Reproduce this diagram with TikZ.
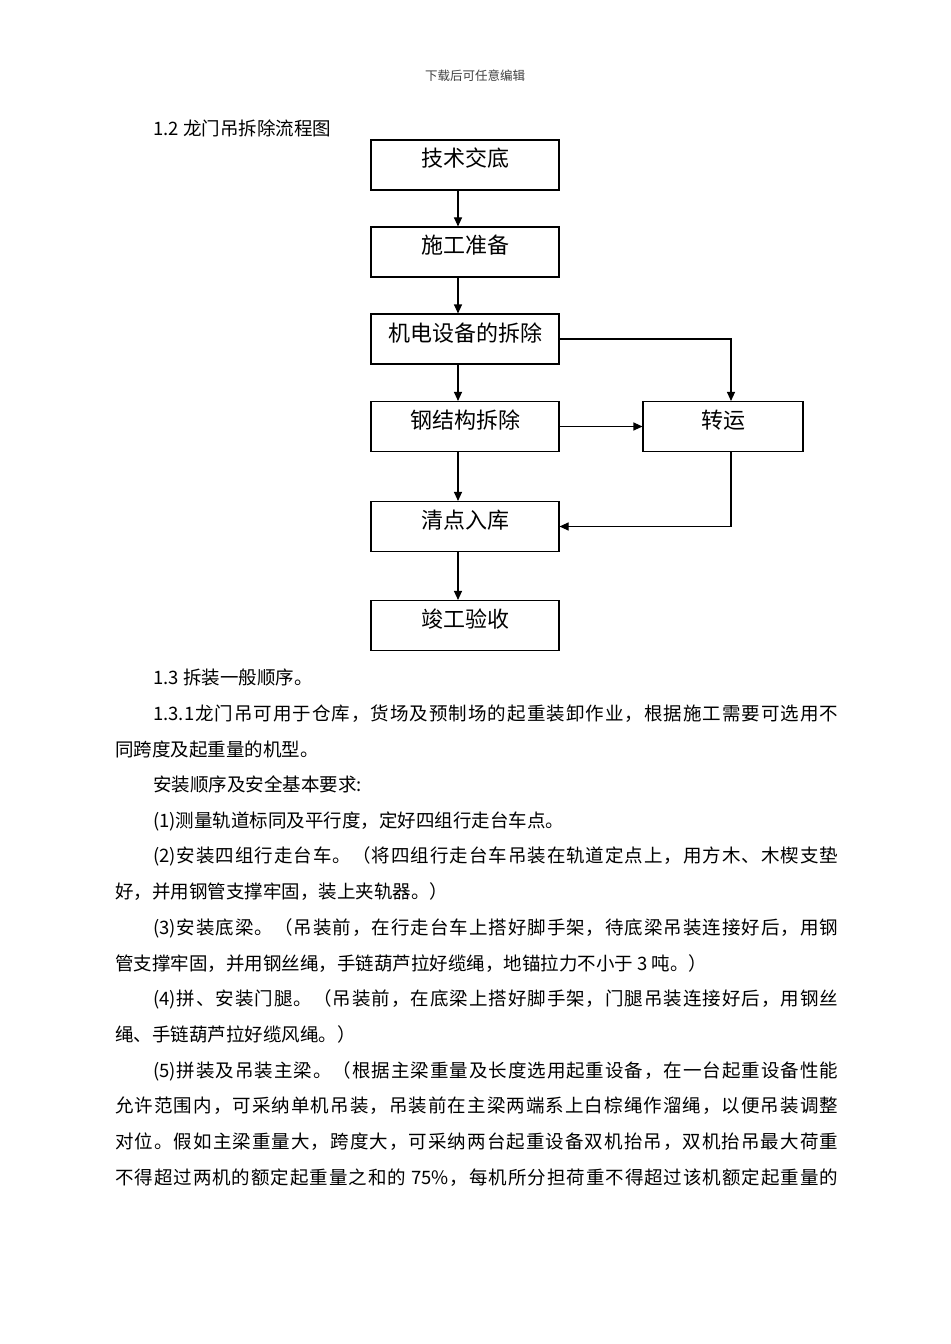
\documentclass[tikz,border=0pt]{standalone}
\usepackage{fontspec}
\setmainfont{Noto Sans CJK SC}
\usetikzlibrary{arrows.meta}
\makeatletter
\newcommand\jline[2]{\hbox to #1{\let\jl@sep\relax\@tfor\jl@x:=#2\do{\jl@sep\jl@x\let\jl@sep\hfil}}}
\makeatother
\tikzset{
  box/.style={draw, line width=1.1bp, inner xsep=0pt, inner ysep=0pt,
    minimum width=188bp, text height=27bp, text depth=23bp,
    font=\fontsize{22bp}{26bp}\selectfont},
  arr/.style={line width=1.1bp, -{Triangle[length=9bp,width=8bp]}},
  body/.style={anchor=base west, inner sep=0pt, font=\fontsize{18.5bp}{22bp}\selectfont}
}
\begin{document}
\begin{tikzpicture}[x=1bp,y=-1bp]
\useasboundingbox[fill=white] (0,0) rectangle (950,1344);
% header
\node[anchor=base, inner sep=0pt, font=\fontsize{12.5bp}{14bp}\selectfont, text=black!75] (hdr) at (475,80.7) {下载后可任意编辑};
\node[body] (h12) at (153,136) {1.2 龙门吊拆除流程图};
% flowchart
\node[box] (b1) at (465,165) {技术交底};
\node[box] (b2) at (465,252) {施工准备};
\node[box] (b3) at (465,339) {机电设备的拆除};
\node[box] (b4) at (465,426.5) {钢结构拆除};
\node[box, minimum width=160bp] (t) at (723,426.5) {转运};
\node[box] (b5) at (465,526.5) {清点入库};
\node[box] (b6) at (465,625.5) {竣工验收};
\coordinate (ax) at (458,0);
\coordinate (bx) at (731,0);
\draw[arr] (b1.south -| ax) -- (b2.north -| ax);
\draw[arr] (b2.south -| ax) -- (b3.north -| ax);
\draw[arr] (b3.south -| ax) -- (b4.north -| ax);
\draw[arr] (b4.south -| ax) -- (b5.north -| ax);
\draw[arr] (b5.south -| ax) -- (b6.north -| ax);
\draw[arr] (b3.east) -| (t.north -| bx);
\draw[arr] (b4.east) -- (t.west);
\draw[arr] (t.south -| bx) |- (b5.east);
% body text
\node[body] (l1) at (153,684) {1.3 拆装一般顺序。};
\node[body] (l2) at (153,720) {\jline{685bp}{{1.3.1}龙门吊可用于仓库，货场及预制场的起重装卸作业，根据施工需要可选用不}};
\node[body] (l3) at (115,756) {同跨度及起重量的机型。};
\node[body] (l4) at (153,791) {安装顺序及安全基本要求:};
\node[body] (l5) at (153,827) {(1)测量轨道标同及平行度，定好四组行走台车点。};
\node[body] (l6) at (153,862) {\jline{685bp}{{(2)}安装四组行走台车。（将四组行走台车吊装在轨道定点上，用方木、木楔支垫}};
\node[body] (l7) at (115,898) {好，并用钢管支撑牢固，装上夹轨器。）};
\node[body] (l8) at (153,934) {\jline{685bp}{{(3)}安装底梁。（吊装前，在行走台车上搭好脚手架，待底梁吊装连接好后，用钢}};
\node[body] (l9) at (115,970) {管支撑牢固，并用钢丝绳，手链葫芦拉好缆绳，地锚拉力不小于 3 吨。）};
\node[body] (l10) at (153,1005) {\jline{685bp}{{(4)}拼、安装门腿。（吊装前，在底梁上搭好脚手架，门腿吊装连接好后，用钢丝}};
\node[body] (l11) at (115,1041) {绳、手链葫芦拉好缆风绳。）};
\node[body] (l12) at (153,1077) {\jline{685bp}{{(5)}拼装及吊装主梁。（根据主梁重量及长度选用起重设备，在一台起重设备性能}};
\node[body] (l13) at (115,1112) {\jline{723bp}{允许范围内，可采纳单机吊装，吊装前在主梁两端系上白棕绳作溜绳，以便吊装调整}};
\node[body] (l14) at (115,1148) {\jline{723bp}{对位。假如主梁重量大，跨度大，可采纳两台起重设备双机抬吊，双机抬吊最大荷重}};
\node[body] (l15) at (115,1184) {\jline{723bp}{不得超过两机的额定起重量之和的{\ 75\%}，每机所分担荷重不得超过该机额定起重量的}};
\end{tikzpicture}
\end{document}
